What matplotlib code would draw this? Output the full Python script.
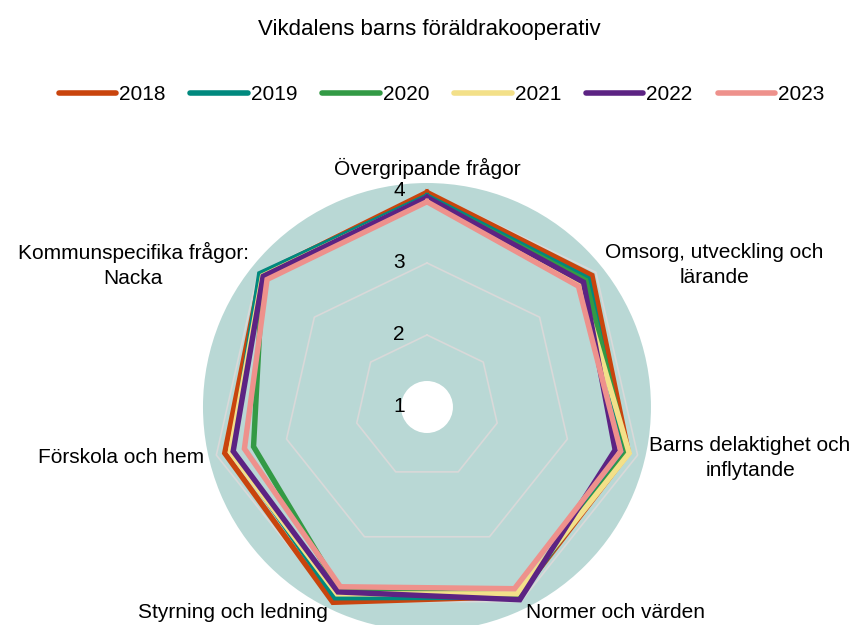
import numpy as np
import matplotlib
matplotlib.use('Agg')
import matplotlib.pyplot as plt
from matplotlib.lines import Line2D
from matplotlib.patches import Circle

plt.rcParams['font.family'] = ['Liberation Sans', 'DejaVu Sans']

TITLE = 'Vikdalens barns föräldrakooperativ'
CATEGORIES = ['Övergripande frågor', 'Omsorg, utveckling och\nlärande',
              'Barns delaktighet och\ninflytande', 'Normer och värden',
              'Styrning och ledning', 'Förskola och hem',
              'Kommunspecifika frågor:\nNacka']
YEARS = ['2018', '2019', '2020', '2021', '2022', '2023']
COLORS = ['#c9440d', '#00897e', '#339a45', '#f3e089', '#5c2383', '#ee918c']
V2018 = [3.98, 3.93, 3.87, 3.92, 4.01, 3.88, 3.95]
V2019 = [3.93, 3.86, 3.80, 3.93, 3.94, 3.77, 3.97]
V2020 = [3.90, 3.82, 3.85, 3.90, 3.81, 3.47, 3.92]
V2021 = [3.90, 3.72, 3.88, 3.88, 3.88, 3.80, 3.92]
V2022 = [3.91, 3.78, 3.68, 3.97, 3.85, 3.76, 3.91]
V2023 = [3.85, 3.69, 3.76, 3.80, 3.77, 3.60, 3.84]
SERIES = [V2018, V2019, V2020, V2021, V2022, V2023]
RTICKS = [1, 2, 3, 4]

BG = '#b9d8d5'
GRID = '#d9d9d9'
RMIN, RMAX = 1, 4.11
FS = 15

fig = plt.figure(figsize=(8.59, 6.25), dpi=100)
ax = fig.add_axes([0.2363, -0.0096, 0.5215, 0.7168], projection='polar')
ax.set_theta_zero_location('N')
ax.set_theta_direction(-1)
ax.set_ylim(RMIN, RMAX)
ax.set_facecolor(BG)
ax.spines['polar'].set_visible(False)
ax.grid(False)
ax.set_xticks([]); ax.set_yticks([])

n = len(CATEGORIES)
theta = np.linspace(0, 2 * np.pi, n, endpoint=False)
th_closed = np.append(theta, theta[0])

# heptagon gridlines
for r in RTICKS[1:]:
    ax.plot(th_closed, [r] * (n + 1), color=GRID, lw=1.2, zorder=1)

for vals, col in zip(SERIES, COLORS):
    ax.plot(th_closed, vals + vals[:1], color=col, lw=3.9,
            solid_joinstyle='miter', zorder=3)

# hole in the middle
ax.add_patch(Circle((0.5, 0.5), 26 / 448, transform=ax.transAxes,
                    facecolor='white', edgecolor='none', zorder=4))

for r in RTICKS:
    ax.annotate(str(r), xy=(0, r), xytext=(-16, 0), textcoords='offset points',
                ha='right', va='center', fontsize=FS, zorder=5,
                annotation_clip=False)

# category labels
aligns = [('center', 'bottom'), ('left', 'center'), ('left', 'center'),
          ('left', 'center'), ('right', 'center'), ('right', 'center'),
          ('right', 'center')]
for t, lab, (ha, va) in zip(theta, CATEGORIES, aligns):
    dx, dy = np.sin(t) * 3, np.cos(t) * 3
    ax.annotate(lab, xy=(t, RMAX), xytext=(dx, dy), textcoords='offset points',
                ha=ha, va=va, fontsize=FS, multialignment='center',
                linespacing=1.4, annotation_clip=False)

fig.text(0.5, 1 - 30 / 625, TITLE, ha='center', va='center', fontsize=16)

handles = [Line2D([], [], color=c, lw=4, solid_capstyle='round') for c in COLORS]
fig.legend(handles, YEARS, loc='center', bbox_to_anchor=(0.514, 1 - 95 / 625),
           ncol=6, frameon=False, fontsize=15, handlelength=2.75,
           handletextpad=0.15, columnspacing=1.2)

fig.savefig('out.png', dpi=100)
